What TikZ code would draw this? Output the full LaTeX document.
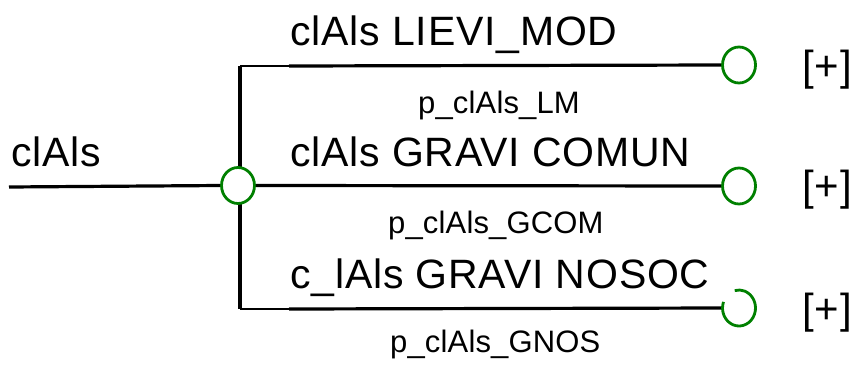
\documentclass[tikz,border=0pt]{standalone}
\usepackage{fontspec}
\usetikzlibrary{shapes.geometric}
\setmainfont{Liberation Sans}
\newfontfamily\labelfont{Liberation Sans}[LetterSpace=2]
\newfontfamily\tagfont{Liberation Sans}[LetterSpace=0.5]
\begin{document}
\begin{tikzpicture}[x=1pt, y=-1pt,
  wire/.style={line width=3.2pt, black},
  stub/.style={line width=2.4pt, black},
  port/.style={ellipse, draw=green!50!black, line width=2.8pt, fill=white,
               minimum width=33pt, minimum height=36pt, inner sep=0pt},
  portarc/.style={draw=green!50!black, line width=2.8pt},
  biglabel/.style={anchor=base west, inner sep=0pt,
                   font=\labelfont\fontsize{41}{44}\selectfont},
  smalllabel/.style={anchor=base west, inner sep=0pt,
                     font=\tagfont\fontsize{31}{34}\selectfont},
  plus/.style={anchor=base west, inner sep=0pt,
               font=\labelfont\fontsize{42}{46}\selectfont}]
  \useasboundingbox (0,0) rectangle (857,367);

  % bus and branch points
  \coordinate (in) at (9,187);
  \coordinate (bustop) at (240,66);
  \coordinate (busbot) at (240,309);
  \coordinate (stubtop) at (289,66);
  \coordinate (stubbot) at (289,309);

  % vertical bus, drawn first so the hub covers it
  \draw[wire] (bustop) -- (busbot);

  % ports
  \node[port] (hub) at (238,185.5) {};
  \node[port] (o1) at (739,65) {};
  \node[port] (o2) at (739,186) {};
  \node[ellipse, minimum width=33pt, minimum height=36pt, inner sep=0pt] (o3) at (739,308) {};

  % connectors
  \draw[wire] (in) -- (hub.west);
  \draw[stub] (bustop) -- (stubtop);
  \draw[wire] (stubtop) -- (o1.west);
  \draw[wire] (hub.east) -- (o2.west);
  \draw[stub] (busbot) -- (stubbot);
  \draw[wire] (stubbot) -- (o3.west);

  % open end of the last branch
  \begin{scope}[shift={(o3.center)}, yscale=-1]
    \draw[portarc] (160:16.5 and 18) arc[start angle=160, end angle=465,
                                          x radius=16.5, y radius=18];
  \end{scope}

  % labels
  \node[biglabel] (lin) at (11,166) {clAls};
  \node[biglabel] (l1) at (290,45) {clAls LIEVI\_MOD};
  \node[smalllabel] (p1) at (418,113) {p\_clAls\_LM};
  \node[biglabel] (l2) at (290,166) {clAls GRAVI COMUN};
  \node[smalllabel] (p2) at (388,233) {p\_clAls\_GCOM};
  \node[biglabel] (l3) at (290,288) {c\_lAls GRAVI NOSOC};
  \node[smalllabel] (p3) at (390,352) {p\_clAls\_GNOS};

  \node[plus] (x1) at (802,80) {[+]};
  \node[plus] (x2) at (802,200) {[+]};
  \node[plus] (x3) at (802,323) {[+]};
\end{tikzpicture}
\end{document}
